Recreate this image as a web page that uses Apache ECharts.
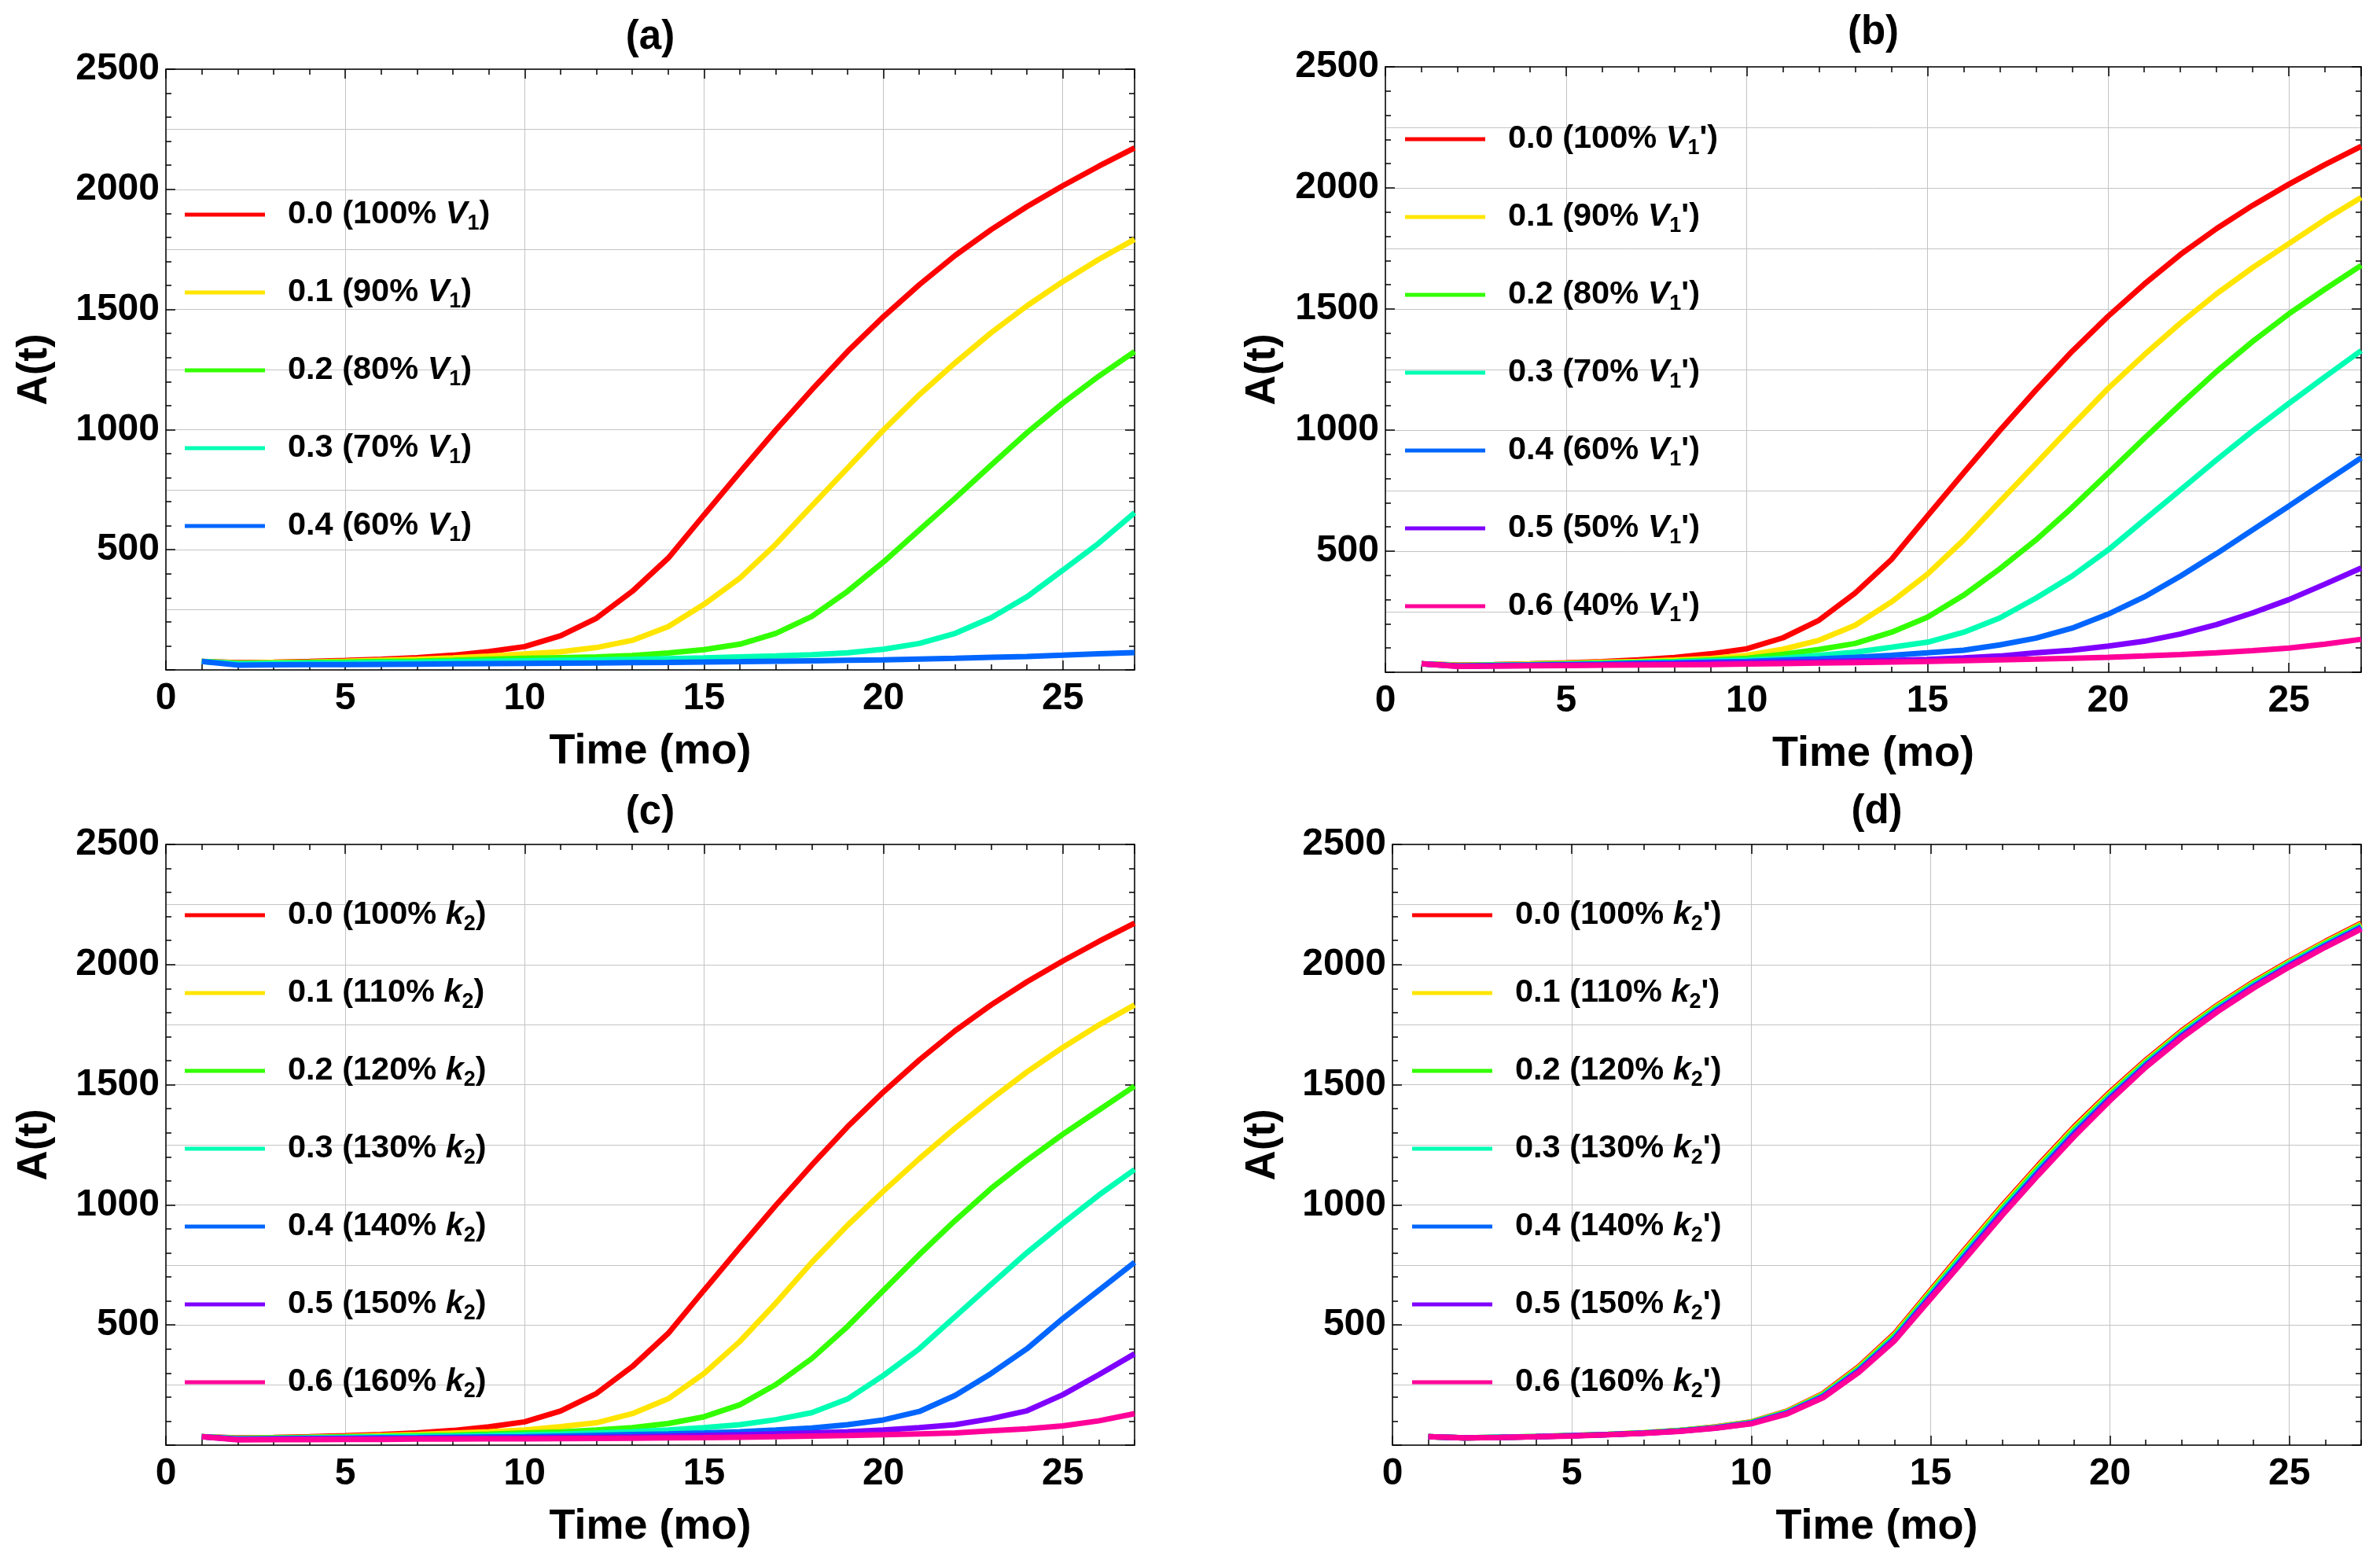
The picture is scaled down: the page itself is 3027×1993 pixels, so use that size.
<!DOCTYPE html>
<html><head><meta charset="utf-8">
<script src="https://cdn.jsdelivr.net/npm/echarts@6/dist/echarts.min.js"></script>
<style>html,body{margin:0;padding:0;background:#fff}#c{width:3027px;height:1993px}</style>
</head><body><div id="c"></div>
<script>
// ---------------- data ----------------
const t = [1,2,3,4,5,6,7,8,9,10,11,12,13,14,15,16,17,18,19,20,21,22,23,24,25,26,27];
const xTickLabels = ['0','5','10','15','20','25'];
const yTickLabels = ['500','1000','1500','2000','2500'];

// baseline (0.0) curve, shared by all panels
const base = [35,30,32,35,39,44,51,61,76,97,142,215,327,465,645,823,998,1165,1325,1470,1603,1725,1832,1928,2015,2096,2172];

// (a) V1
const a1 = [35,29,31,33,36,40,44,50,57,66,75,93,123,180,273,382,523,682,840,998,1145,1278,1403,1515,1616,1708,1792];
const a2 = [35,27,29,31,33,35,37,40,44,48,51,54,60,70,84,107,152,222,327,449,582,715,852,987,1110,1222,1325];
const a3 = [35,25,27,28,29,31,32,34,36,38,40,42,44,47,50,54,58,63,71,86,110,152,217,304,415,527,654];
const a4 = [35,20,21,22,22,23,24,25,26,27,28,29,30,31,33,34,36,38,40,42,45,48,52,56,61,67,72];

// (b) V1'
const b1 = [35,29,31,34,37,41,45,50,57,70,95,132,194,290,405,546,704,861,1018,1172,1311,1442,1563,1671,1770,1869,1960];
const b2 = [35,28,30,32,35,38,41,45,51,58,74,94,119,165,227,318,427,546,680,822,966,1106,1242,1366,1480,1582,1680];
const b3 = [35,27,29,31,33,36,39,42,46,50,58,70,83,103,124,165,224,306,397,505,629,753,877,997,1110,1220,1328];
const b4 = [35,26,28,30,32,34,37,39,42,45,50,55,62,70,80,91,113,141,182,240,311,397,490,588,686,786,885];
const b5 = [35,25,27,28,30,31,33,35,37,39,41,43,46,49,53,59,67,80,91,108,128,158,197,245,300,364,430];
const b6 = [35,24,25,27,28,29,30,31,32,34,36,38,40,42,45,48,51,54,58,62,67,73,80,89,100,116,136];

// (c) k2
const c1 = [35,29,31,33,36,40,44,50,56,63,77,93,131,193,298,432,591,760,915,1057,1192,1320,1440,1553,1655,1748,1832];
const c2 = [35,28,30,32,34,36,39,42,46,51,55,63,73,90,118,168,252,360,494,644,793,935,1068,1185,1294,1394,1494];
const c3 = [35,27,28,30,32,34,36,38,40,43,46,51,56,63,73,85,106,135,192,290,401,535,669,801,923,1040,1147];
const c4 = [35,25,27,28,29,30,31,33,34,35,38,41,44,47,51,56,63,71,85,105,140,207,298,401,527,644,761];
const c5 = [35,24,25,26,27,27,28,29,29,30,31,32,34,37,40,43,47,51,56,63,73,85,110,143,210,293,380];
const c6 = [35,22,23,23,24,24,25,25,26,26,27,28,29,30,31,33,35,38,40,43,47,51,60,68,80,101,131];

// (d) k2'
const d1 = [35,30,33,36,40,45,52,61,75,96,140,212,323,460,639,817,992,1159,1319,1464,1598,1720,1828,1924,2011,2092,2168];
const d2 = [35,30,33,36,40,45,51,61,74,95,138,209,319,455,633,810,985,1152,1312,1458,1593,1715,1823,1920,2007,2088,2164];
const d3 = [35,30,33,36,39,44,51,60,73,93,136,206,315,450,627,803,978,1145,1305,1452,1588,1710,1818,1915,2003,2084,2160];
const d4 = [35,30,33,35,39,44,50,59,72,92,134,203,311,445,621,796,971,1138,1298,1446,1583,1705,1813,1910,1998,2080,2156];
const d5 = [35,30,32,35,39,43,50,58,71,90,132,200,307,440,615,789,964,1131,1291,1440,1578,1700,1809,1906,1994,2076,2152];
const d6 = [35,30,32,35,38,43,49,57,70,89,130,197,303,435,609,782,957,1124,1284,1434,1573,1695,1804,1902,1990,2072,2148];

const namesA = ['0.0 (100% {i|V}{sub|1})','0.1 (90% {i|V}{sub|1})','0.2 (80% {i|V}{sub|1})','0.3 (70% {i|V}{sub|1})','0.4 (60% {i|V}{sub|1})'];
const namesB = ["0.0 (100% {i|V}{sub|1}')","0.1 (90% {i|V}{sub|1}')","0.2 (80% {i|V}{sub|1}')","0.3 (70% {i|V}{sub|1}')","0.4 (60% {i|V}{sub|1}')","0.5 (50% {i|V}{sub|1}')","0.6 (40% {i|V}{sub|1}')"];
const namesC = ['0.0 (100% {i|k}{sub|2})','0.1 (110% {i|k}{sub|2})','0.2 (120% {i|k}{sub|2})','0.3 (130% {i|k}{sub|2})','0.4 (140% {i|k}{sub|2})','0.5 (150% {i|k}{sub|2})','0.6 (160% {i|k}{sub|2})'];
const namesD = ["0.0 (100% {i|k}{sub|2}')","0.1 (110% {i|k}{sub|2}')","0.2 (120% {i|k}{sub|2}')","0.3 (130% {i|k}{sub|2}')","0.4 (140% {i|k}{sub|2}')","0.5 (150% {i|k}{sub|2}')","0.6 (160% {i|k}{sub|2}')"];
const titles = ['(a)','(b)','(c)','(d)'];
const colors = ['#FF0000','#FFE500','#33FF00','#00FFB3','#0066FF','#7F00FF','#FF0099'];

// ---------------- layout / style ----------------
const FONT = "'Liberation Sans', Arial, Helvetica, sans-serif";
const panels = [
  {grid:{left:211,top:88,width:1232,height:764}, titleY:48, nameGap:140, legend:{left:235,top:248}, names:namesA, series:[base,a1,a2,a3,a4]},
  {grid:{left:1762,top:85,width:1241,height:770}, titleY:42, nameGap:129, legend:{left:1787,top:152}, names:namesB, series:[base,b1,b2,b3,b4,b5,b6]},
  {grid:{left:211,top:1074,width:1232,height:764}, titleY:1034, nameGap:140, legend:{left:235,top:1139}, names:namesC, series:[base,c1,c2,c3,c4,c5,c6]},
  {grid:{left:1771,top:1074,width:1232,height:764}, titleY:1033, nameGap:138, legend:{left:1796,top:1139}, names:namesD, series:[base,d1,d2,d3,d4,d5,d6]}
];

const black = '#000';
const tickStyle = {color:black, width:1.5};
const gridColor = '#c4c4c4';

const option = {animation:false, backgroundColor:'#fff', grid:[], xAxis:[], yAxis:[], legend:[], series:[], graphic:[]};

panels.forEach((p, g) => {
  option.grid.push(Object.assign({show:false, containLabel:false}, p.grid));
  option.graphic.push({type:'text', x:p.grid.left + p.grid.width/2, y:p.titleY, silent:true,
    style:{text:titles[g], fill:black, font:'bold 51px ' + FONT, textAlign:'center', textVerticalAlign:'middle'}});

  // x axes: bottom major, bottom minor, top major, top minor
  option.xAxis.push({gridIndex:g, type:'value', position:'bottom', min:0, max:27, interval:5,
    axisLine:{show:true, onZero:false, lineStyle:{color:black, width:1.5}},
    axisTick:{show:true, inside:true, length:12, lineStyle:tickStyle},
    axisLabel:{show:true, margin:13, showMaxLabel:false, color:black, fontFamily:FONT, fontWeight:'bold', fontSize:48,
      formatter:v => xTickLabels.indexOf(String(v)) >= 0 ? String(v) : ''},
    splitLine:{show:true, lineStyle:{color:gridColor, width:1}},
    name:'Time (mo)', nameLocation:'middle', nameGap:77,
    nameTextStyle:{color:black, fontFamily:FONT, fontWeight:'bold', fontSize:54}});
  option.xAxis.push({gridIndex:g, type:'value', position:'bottom', min:0, max:27, interval:1,
    axisLine:{show:false, onZero:false}, axisTick:{show:true, inside:true, length:7, lineStyle:tickStyle},
    axisLabel:{show:false}, splitLine:{show:false}});
  option.xAxis.push({gridIndex:g, type:'value', position:'top', min:0, max:27, interval:5,
    axisLine:{show:true, onZero:false, lineStyle:{color:black, width:1.5}},
    axisTick:{show:true, inside:true, length:12, lineStyle:tickStyle},
    axisLabel:{show:false}, splitLine:{show:false}});
  option.xAxis.push({gridIndex:g, type:'value', position:'top', min:0, max:27, interval:1,
    axisLine:{show:false, onZero:false}, axisTick:{show:true, inside:true, length:7, lineStyle:tickStyle},
    axisLabel:{show:false}, splitLine:{show:false}});

  // y axes: left major (labels), right major, grid-lines axis
  option.yAxis.push({gridIndex:g, type:'value', position:'left', min:0, max:2500, interval:500,
    axisLine:{show:true, onZero:false, lineStyle:{color:black, width:1.5}},
    axisTick:{show:true, inside:true, length:12, lineStyle:tickStyle},
    minorTick:{show:true, splitNumber:5, length:7, lineStyle:tickStyle},
    axisLabel:{show:true, margin:8, showMinLabel:false, color:black, fontFamily:FONT, fontWeight:'bold', fontSize:48,
      formatter:v => yTickLabels.indexOf(String(v)) >= 0 ? String(v) : ''},
    splitLine:{show:false},
    name:'A(t)', nameLocation:'middle', nameRotate:90, nameGap:p.nameGap,
    nameTextStyle:{color:black, fontFamily:FONT, fontWeight:'bold', fontSize:53}});
  option.yAxis.push({gridIndex:g, type:'value', position:'right', min:0, max:2500, interval:500,
    axisLine:{show:true, onZero:false, lineStyle:{color:black, width:1.5}},
    axisTick:{show:true, inside:true, length:12, lineStyle:tickStyle},
    minorTick:{show:true, splitNumber:5, length:7, lineStyle:tickStyle},
    axisLabel:{show:false}, splitLine:{show:false}});
  option.yAxis.push({gridIndex:g, type:'value', position:'left', min:0, max:2500, interval:250,
    axisLine:{show:false, onZero:false}, axisTick:{show:false}, axisLabel:{show:false},
    splitLine:{show:true, lineStyle:{color:gridColor, width:1}}});

  // series
  p.series.forEach((vals, i) => {
    const c = colors[i];
    option.series.push({type:'line', name:p.names[i], xAxisIndex:g*4, yAxisIndex:g*3,
      data:t.map((x, k) => [x, vals[k]]), showSymbol:false, symbol:'none', silent:true,
      color:c, itemStyle:{color:c}, lineStyle:{color:c, width:7}, clip:true});
  });

  // legend
  option.legend.push({show:true, data:p.names, orient:'vertical', left:p.legend.left, top:p.legend.top,
    icon:'rect', itemWidth:102, itemHeight:5, itemGap:49, padding:0, selectedMode:false,
    formatter:n => '{sp|\u00a0}' + n,
    textStyle:{color:black, fontFamily:FONT, fontWeight:'bold', fontSize:41.5, lineHeight:50,
      rich:{
        sp:{width:24, fontSize:40, lineHeight:50},
        i:{fontFamily:FONT, fontWeight:'bold', fontStyle:'italic', fontSize:41.5, lineHeight:50, color:black},
        sub:{fontFamily:FONT, fontWeight:'bold', fontSize:27, lineHeight:28, verticalAlign:'bottom', color:black}
      }}});
});

const chart = echarts.init(document.getElementById('c'), null, {renderer:'canvas'});
chart.setOption(option);
</script>
</body></html>
